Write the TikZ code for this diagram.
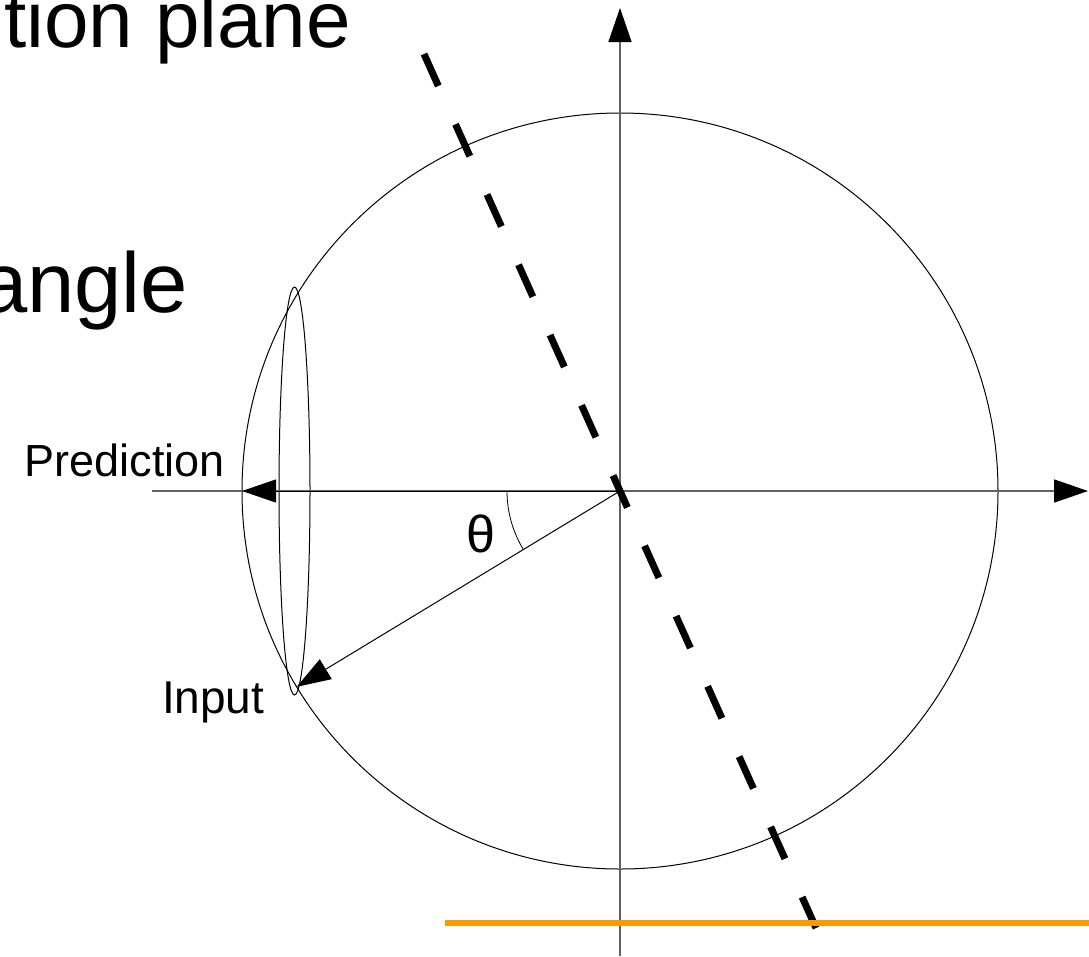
\documentclass[tikz,border=0pt]{standalone}
\usepackage{fontspec}
\setmainfont{Liberation Sans}
\usetikzlibrary{arrows.meta}
\definecolor{axisgray}{gray}{0.38}
\definecolor{planeorange}{RGB}{255,153,0}
\tikzset{
  axisline/.style={draw=axisgray, line width=1.6pt},
  thinline/.style={draw=black, line width=1pt},
  bigtip/.style={-{Triangle[length=34pt,width=23pt,color=black]}},
  planeline/.style={draw=black, line width=7pt, dash pattern=on 35pt off 42pt},
  lbl/.style={inner sep=0pt, outer sep=0pt, text=black}
}
\begin{document}
\begin{tikzpicture}[x=1pt,y=-1pt]
\useasboundingbox (0,0) rectangle (1089,956);
% reference points
\coordinate (O) at (620,491);
\coordinate (L) at (152,491);
\coordinate (R) at (1088,491);
\coordinate (T) at (620,8);
\coordinate (B) at (620,956);
\coordinate (P) at (242,491);
\coordinate (I) at (296.7,686.8);
\coordinate (D1) at (424,54);
\coordinate (D2) at (816,928);
\coordinate (G1) at (445,923);
\coordinate (G2) at (1089,923);
% circle and ellipse
\draw[thinline] (O) circle[radius=378];
\draw[thinline] (294.5,491) ellipse[x radius=15.5, y radius=204];
% axes
\draw[axisline, bigtip] (L) -- (R);
\draw[axisline, bigtip] (B) -- (T);
% prediction and input arrows
\draw[thinline, bigtip] (O) -- (P);
\draw[thinline, bigtip] (O) -- (I);
% angle arc
\draw[draw=black, line width=0.8pt] (507,491) arc[start angle=180, end angle=148.8, radius=113];
% plane line
\draw[planeline] (D1) -- (D2);
% orange line
\draw[draw=planeorange, line width=5.5pt] (G1) -- (G2);
% labels
\node[lbl, anchor=base east] (tp) at (351,47) {\fontsize{80}{90}\selectfont tion plane};
\node[lbl, anchor=base east] (ang) at (188,312) {\fontsize{85}{95}\selectfont angle};
\node[lbl, anchor=base east] (pred) at (225,476) {\fontsize{45}{52}\selectfont Prediction};
\node[lbl, anchor=base west] (inp) at (162,713) {\fontsize{46}{52}\selectfont Input};
\node[lbl, anchor=base] (th) at (481,552) {\fontsize{52}{58}\selectfont θ};
\end{tikzpicture}
\end{document}
